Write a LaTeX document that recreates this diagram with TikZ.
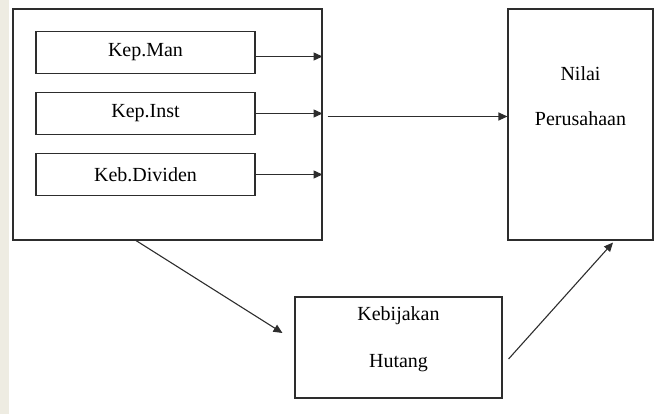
\documentclass[tikz,border=0pt]{standalone}
\usepackage{fontspec}
\setmainfont{Liberation Serif}
\usetikzlibrary{arrows.meta}
\definecolor{strip}{RGB}{238,236,226}
\definecolor{ln}{RGB}{45,45,45}
\begin{document}
\begin{tikzpicture}[x=1pt,y=1pt,font=\fontsize{20}{24}\selectfont,
  box/.style={draw=ln,line width=1.1pt,rectangle,inner sep=0pt},
  small/.style={box,minimum width=219pt,minimum height=42pt},
  link/.style={ln,line width=1.1pt,->},
  node distance=61pt, >={Triangle[length=9pt,width=8pt]}]
  \useasboundingbox (0,0) rectangle (654,414);
  \fill[strip] (0,0) rectangle (9,414);
  \node[box,minimum width=309pt,minimum height=231pt] (outer) at (167.5,289.5) {};
  \node[small] (man) at (145.5,361.5) {Kep.Man};
  \node[small] (inst) [below of=man] {Kep.Inst};
  \node[small] (div) [below of=inst] {Keb.Dividen};
  \node[box,minimum width=145pt,minimum height=231pt,node distance=413pt] (nilai) [right of=outer] {};
  \node[align=center] (nilaitxt) at ([yshift=28.5pt]nilai) {Nilai\\[21pt]Perusahaan};
  \node[box,minimum width=207pt,minimum height=101pt] (hutang) at (398.5,66.5) {};
  \node[align=center] (hutangtxt) at ([yshift=8pt]hutang) {Kebijakan\\[23pt]Hutang};
  \draw[link] ([yshift=-4pt]man.east) -- ([yshift=-4pt]man.east -| outer.east);
  \draw[link] (inst) -- (inst -| outer.east);
  \draw[link] (div) -- (div -| outer.east);
  \draw[link,shorten <=5pt] ([yshift=-3pt]inst.east -| outer.east) -- ([yshift=-3pt]inst.east -| nilai.west);
  \draw[link] ([xshift=-31.5pt]outer.south) -- ([shift={(-12pt,14.5pt)}]hutang.west);
  \draw[link] ([shift={(6pt,-11.5pt)}]hutang.east) -- ([shift={(32.5pt,-2pt)}]nilai.south);
\end{tikzpicture}
\end{document}
